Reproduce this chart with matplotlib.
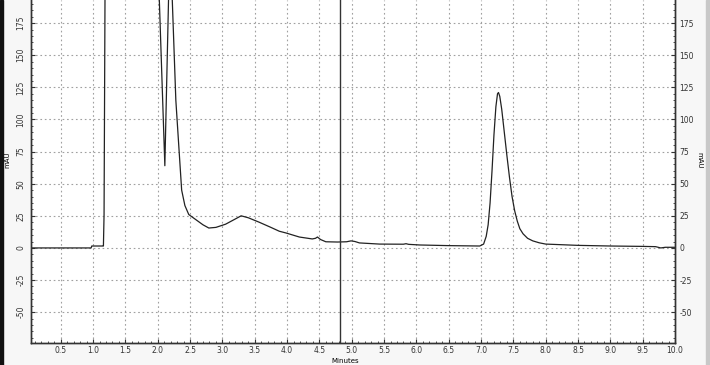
#! /usr/bin/env python3

'''
chromatogram trace: absorbance (mAU) v. retention time (minutes)
values read off the reference picture by eye
'''

import numpy as np
import matplotlib.pyplot as plt
from matplotlib.ticker import MultipleLocator
from matplotlib.patches import Rectangle

# retention time (min) and detector signal (mAU); values above ~193 are off scale
time = [0.0, 0.97, 0.98, 1.15, 1.16, 1.17, 1.19, 1.5, 1.9, 2.02,
        2.11, 2.17, 2.2, 2.22, 2.28, 2.33, 2.37, 2.42, 2.48, 2.59,
        2.7, 2.79, 2.9, 3.05, 3.18, 3.29, 3.4, 3.57, 3.75, 3.88,
        3.98, 4.19, 4.39, 4.44, 4.47, 4.52, 4.6, 4.78, 4.92, 4.99,
        5.05, 5.12, 5.43, 5.8, 5.84, 5.88, 6.05, 6.5, 6.98, 7.04,
        7.08, 7.11, 7.14, 7.17, 7.2, 7.23, 7.255, 7.27, 7.29, 7.32,
        7.36, 7.4, 7.44, 7.48, 7.52, 7.56, 7.6, 7.65, 7.72, 7.8,
        7.9, 8.0, 8.5, 9.0, 9.5, 9.7, 9.78, 9.85, 10.0]
mau = [0.0, 0.0, 1.5, 1.5, 1.5, 26.0, 260.0, 420.0, 380.0, 200.0,
       64.0, 200.0, 260.0, 200.0, 115.0, 76.0, 45.0, 33.0, 26.0, 22.0,
       18.0, 15.5, 16.0, 18.5, 22.0, 25.0, 23.5, 20.0, 16.0, 13.0,
       11.7, 8.5, 7.0, 7.5, 8.5, 6.5, 4.8, 4.6, 4.8, 5.5,
       5.0, 3.9, 3.0, 2.9, 3.3, 2.8, 2.3, 1.8, 1.5, 3.0,
       9.0, 18.0, 35.0, 60.0, 88.0, 110.0, 120.0, 121.0, 118.0, 108.0,
       90.0, 72.0, 55.0, 40.0, 29.0, 21.0, 15.0, 11.0, 7.5, 5.5,
       4.0, 3.0, 2.0, 1.5, 1.2, 1.0, 0.0, 0.5, 0.5]

cursor_time = 4.82          # vertical marker line
y_ticks = [-50, -25, 0, 25, 50, 75, 100, 125, 150, 175]
x_ticks = [0.5, 1.0, 1.5, 2.0, 2.5, 3.0, 3.5, 4.0, 4.5, 5.0,
           5.5, 6.0, 6.5, 7.0, 7.5, 8.0, 8.5, 9.0, 9.5, 10.0]

fig = plt.figure(figsize=(7.1, 3.65), dpi=100, facecolor='#f7f7f7')
ax = fig.add_axes([31/710, 1 - 343/365, (675 - 31)/710, 343/365])
ax.set_facecolor('white')

ax.plot(time, mau, color='#222222', linewidth=0.9)
ax.axvline(cursor_time, color='#333333', linewidth=1.0)

ax.set_xlim(0.04, 10.0)
ax.set_ylim(-74, 193)

ax.set_xticks(x_ticks)
ax.set_xticklabels([f'{v:.1f}' for v in x_ticks])
ax.xaxis.set_minor_locator(MultipleLocator(0.1))
ax.set_yticks(y_ticks)
ax.set_yticklabels([str(v) for v in y_ticks])   # plain hyphen like the original
ax.yaxis.set_minor_locator(MultipleLocator(5))
ax.grid(True, which='major', color='#a0a0a0', linestyle=(0, (1.5, 2.5)), linewidth=0.8)

ax.tick_params(which='both', direction='in', labelsize=5.5, colors='#333333',
               left=True, right=True, bottom=True, top=False)
ax.tick_params(which='major', length=3, width=0.8)
ax.tick_params(which='minor', length=1.5, width=0.6)
ax.tick_params(axis='x', pad=2)
ax.tick_params(axis='y', labelrotation=90, pad=4)
for lab in ax.get_yticklabels():
    lab.set_va('center')

# right-hand axis with the same scale and horizontal labels
ax2 = ax.twinx()
ax2.set_ylim(ax.get_ylim())
ax2.set_yticks(y_ticks)
ax2.set_yticklabels([str(v) for v in y_ticks])
ax2.yaxis.set_minor_locator(MultipleLocator(5))
ax2.tick_params(which='both', direction='in', labelsize=5.5, colors='#333333', pad=3)
ax2.tick_params(which='major', length=3, width=0.8)
ax2.tick_params(which='minor', length=1.5, width=0.6)

for a in (ax, ax2):
    for s in a.spines.values():
        s.set_color('#333333')
        s.set_linewidth(1.0)
    a.spines['top'].set_visible(False)

fig.text(345/710, 1 - 361/365, 'Minutes', fontsize=5, ha='center', va='center')
fig.text(7/710, 1 - 160/365, 'mAU', rotation=90, fontsize=5, ha='center', va='center')
fig.text(699/710, 1 - 160/365, 'mAU', rotation=270, fontsize=5, ha='center', va='center')

# dark frame strip on the left edge, grey on the right
fig.patches.append(Rectangle((0, 0), 3/710, 1, transform=fig.transFigure,
                             color='#111111', zorder=0))
fig.patches.append(Rectangle((706/710, 0), 4/710, 1, transform=fig.transFigure,
                             color='#c8c8c8', zorder=0))

plt.savefig('out.png', dpi=100, facecolor=fig.get_facecolor())
